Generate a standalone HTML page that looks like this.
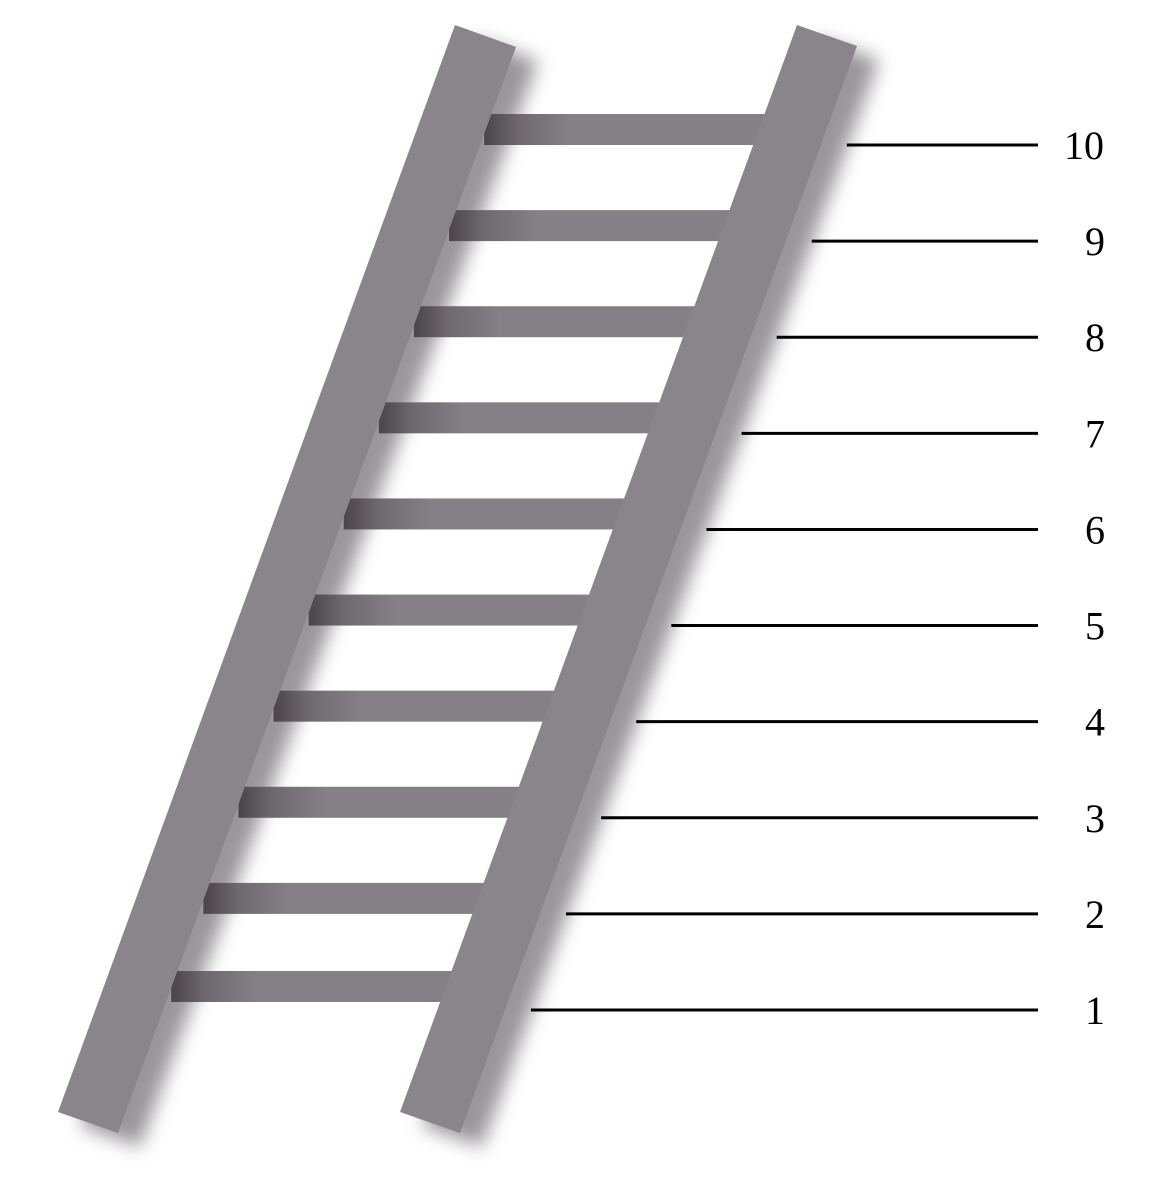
<!DOCTYPE html>
<html><head><meta charset="utf-8"><style>
html,body{margin:0;padding:0;background:#fff;}
svg{display:block;}
text{font-family:"Liberation Serif",serif;font-size:40px;fill:#000;}
</style></head><body>
<svg id="chart" width="1168" height="1196" viewBox="0 0 1168 1196">
<defs>
<filter id="sh" x="-20%" y="-20%" width="140%" height="140%">
<feGaussianBlur stdDeviation="9"/>
</filter>
<linearGradient id="rg" x1="0" x2="1" y1="0" y2="0">
<stop offset="0" stop-color="#4a454a"/><stop offset="0.12" stop-color="#6e696e"/><stop offset="0.3" stop-color="#858085"/><stop offset="1" stop-color="#858085"/>
</linearGradient>
</defs>
<g id="shadows"></g>
<g id="rungs"></g>
<g id="rails"></g>
<g id="scale"></g>
</svg>
<script>
const levels = [1,2,3,4,5,6,7,8,9,10];
const labels = ["1","2","3","4","5","6","7","8","9","10"];
const NS = "http://www.w3.org/2000/svg";
const svg = document.getElementById('chart');
function y(l){ return 1010 + (l-1)*(145-1010)/9; }
const slope = 397/1087;
function leftRailRight(yy){ return 515 - (yy-46)*slope; }
function rightRailLeft(yy){ return 797 - (yy-25)*slope; }
function rightRailRight(yy){ return 857 - (yy-46)*slope; }
function mk(tag, attrs, parent){ const e=document.createElementNS(NS,tag); for(const k in attrs) e.setAttribute(k,attrs[k]); parent.appendChild(e); return e; }
const gS=document.getElementById('shadows'), gR=document.getElementById('rungs'), gL=document.getElementById('rails'), gC=document.getElementById('scale');
const railL="455,25 516,47 118,1133 58,1112";
const railR="797,25 857,46 460,1133 400,1112";
// shadows
const s1=mk('polygon',{points:railL,fill:'#9a969a',transform:'translate(22,14)',filter:'url(#sh)'},gS);


const s2=mk('polygon',{points:railR,fill:'#9a969a',transform:'translate(22,14)',filter:'url(#sh)'},gS);


levels.forEach((l,i)=>{
  const yb=y(l)-(l===1?8:0), yt=yb-31;
  const x0=leftRailRight(yt)-6, x1=rightRailLeft(yb)+20;
  const r=mk('rect',{x:x0,y:yt,width:x1-x0,height:31,fill:'url(#rg)'},gR);
  
  
  const ly=y(l);
  const xs=rightRailRight(ly)+26;
  const ln=mk('line',{x1:xs,y1:ly,x2:1038,y2:ly,stroke:'#000','stroke-width':3},gC);
  
  
  const t=mk('text',{x:l===10?1084:1095,y:ly+14,'text-anchor':'middle'},gC);
  t.textContent=labels[i];
  
  
});
const r1=mk('polygon',{points:railL,fill:'#8a858a'},gL);


const r2=mk('polygon',{points:railR,fill:'#8a858a'},gL);


</script>
</body></html>
